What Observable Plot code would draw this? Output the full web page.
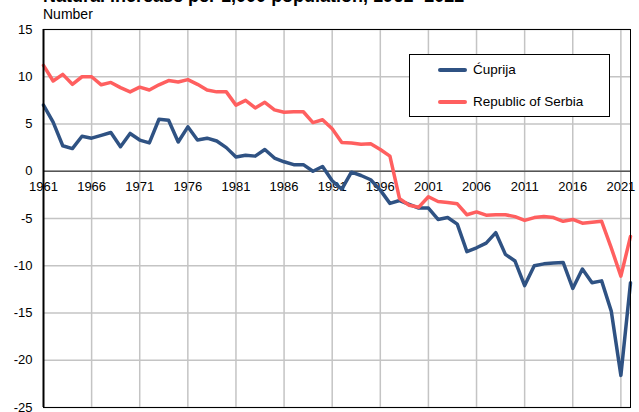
<!DOCTYPE html>
<html><head><meta charset="utf-8">
<script src="https://cdn.jsdelivr.net/npm/d3@7"></script>
<script src="https://cdn.jsdelivr.net/npm/@observablehq/plot@0.6"></script>
<style>
body{margin:0;background:#fff;font-family:"Liberation Sans",Arial,sans-serif;}
#wrap{position:relative;width:639px;height:412px;overflow:hidden;}
#title{position:absolute;left:43px;top:-13px;font-weight:bold;font-size:18px;line-height:18px;white-space:nowrap;color:#000;}
#sub{position:absolute;left:43px;top:6px;font-size:14px;line-height:16px;color:#000;}
#chart{position:absolute;left:0;top:0;}
#legend{position:absolute;left:409px;top:54px;width:199px;height:61px;border:1px solid #000;background:#fff;font-size:13.5px;}
.row{position:absolute;left:0;height:16px;display:flex;align-items:center;}
.sw{position:absolute;left:28px;width:29px;height:4px;border-radius:2px;}
.lab{position:absolute;left:63px;white-space:nowrap;line-height:16px;top:-8px;}
</style></head><body>
<div id="wrap">
<div id="chart"></div>
<div id="title">Natural increase per 1,000 population, 1961- 2022</div>
<div id="sub">Number</div>
<div id="legend"></div>
</div>
<script>
const years = [1961,1962,1963,1964,1965,1966,1967,1968,1969,1970,
1971,1972,1973,1974,1975,1976,1977,1978,1979,1980,
1981,1982,1983,1984,1985,1986,1987,1988,1989,1990,
1991,1992,1993,1994,1995,1996,1997,1998,1999,2000,
2001,2002,2003,2004,2005,2006,2007,2008,2009,2010,
2011,2012,2013,2014,2015,2016,2017,2018,2019,2020,
2021,2022];
const cuprija = [7.0,5.2,2.7,2.4,3.7,3.5,3.8,4.1,2.6,4.0,
3.3,3.0,5.5,5.4,3.1,4.7,3.3,3.5,3.2,2.5,
1.5,1.7,1.6,2.3,1.4,1.0,0.7,0.7,0.0,0.5,
-1.0,-1.9,-0.1,-0.45,-0.9,-2.0,-3.4,-3.1,-3.5,-3.9,
-3.9,-5.1,-4.9,-5.6,-8.5,-8.1,-7.6,-6.5,-8.8,-9.5,
-12.1,-10.0,-9.8,-9.7,-9.65,-12.4,-10.35,-11.8,-11.6,-14.8,
-21.6,-11.8];
const serbia = [11.2,9.55,10.25,9.2,10.0,10.0,9.15,9.4,8.85,8.4,
8.9,8.6,9.15,9.6,9.45,9.7,9.2,8.6,8.4,8.4,
7.0,7.5,6.7,7.3,6.5,6.25,6.3,6.3,5.15,5.45,
4.5,3.05,3.0,2.85,2.9,2.3,1.6,-2.9,-3.6,-3.8,
-2.7,-3.2,-3.3,-3.45,-4.6,-4.3,-4.65,-4.6,-4.6,-4.8,
-5.2,-4.9,-4.8,-4.9,-5.3,-5.1,-5.5,-5.4,-5.3,-8.1,
-11.1,-6.9];
const seriesNames = ["Ćuprija","Republic of Serbia"];
const seriesColors = ["#2f5283","#ff5f5f"];
const xTicks = [1961,1966,1971,1976,1981,1986,1991,1996,2001,2006,2011,2016,2021];
const yTicks = [-25,-20,-15,-10,-5,0,5,10,15];

const rows = [];
years.forEach((y,i)=>{
  rows.push({year:y, value:cuprija[i], series:seriesNames[0]});
  rows.push({year:y, value:serbia[i], series:seriesNames[1]});
});

const chart = Plot.plot({
  width:639, height:412,
  marginLeft:43, marginRight:9, marginTop:29, marginBottom:5,
  style:{fontFamily:"Liberation Sans, Arial, sans-serif", fontSize:"13px", color:"#000", background:"transparent"},
  x:{domain:[1961,2022], axis:null},
  y:{domain:[-25,15], axis:null},
  color:{domain:seriesNames, range:seriesColors},
  marks:[
    Plot.gridX(xTicks.slice(1), {stroke:"#c4c4c4", strokeOpacity:1, strokeWidth:1.5}),
    Plot.gridY(yTicks, {stroke:"#c4c4c4", strokeOpacity:1, strokeWidth:1.5}),
    Plot.ruleY([0], {stroke:"#555", strokeWidth:1.5}),
    Plot.axisY(yTicks, {tickSize:0, tickPadding:11, tickFormat:d=>String(d), fontSize:13, label:null}),
    Plot.text(xTicks, {x:d=>d, y:0, dy:16, text:d=>String(d), fontSize:13, fill:"#000"}),
    Plot.line(rows, {x:"year", y:"value", z:"series", stroke:"series", strokeWidth:3.5, strokeLinejoin:"round", strokeLinecap:"round"}),
    Plot.frame({stroke:"#000", strokeWidth:1}),
    Plot.ruleX([1961], {stroke:"#000", strokeWidth:2})
  ]
});
document.getElementById("chart").appendChild(chart);

const leg = document.getElementById("legend");
seriesNames.forEach((n,i)=>{
  const r = document.createElement("div");
  r.className="row";
  r.style.top = (i===0 ? 15 : 47) + "px";
  r.style.width="100%";
  r.innerHTML = `<div class="sw" style="background:${seriesColors[i]};top:-2px"></div><div class="lab">${n}</div>`;
  leg.appendChild(r);
});
</script>
</body></html>
